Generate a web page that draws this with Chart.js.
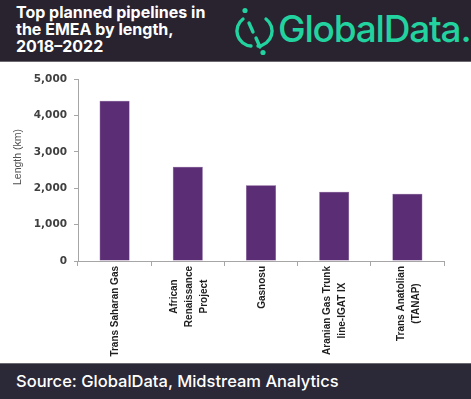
<!DOCTYPE html>
<html>
<head>
<meta charset="utf-8">
<script src="https://cdn.jsdelivr.net/npm/chart.js@4"></script>
<style>
  html, body { margin: 0; padding: 0; background: #fff; }
  #page { width: 471px; height: 399px; position: relative; overflow: hidden; }
  #header {
    height: 61px; background: #28232f; border-bottom: 1px solid #6a6870;
    position: relative;
  }
  #title {
    position: absolute; left: 16px; top: 4px;
    font: 700 16px/17px Inter, "Open Sans", sans-serif; color: #fff;
  }
  #logo { position: absolute; left: 234px; top: 6px; }
  #logotext {
    position: absolute; left: 278px; top: 6px;
    font: 500 37px/46px Inter, sans-serif; color: #22d3a0; letter-spacing: -1.2px;
  }
  #chart_container { height: 301px; position: relative; }
  #footer {
    height: 35px; background: #2b2837; border-top: 1px solid #6a6870;
    font: 500 16.5px/35px Inter, sans-serif; color: #fff; padding-left: 16px;
  }
</style>
</head>
<body>
<div id="page">
  <div id="header">
    <div id="title">Top planned pipelines in<br>the EMEA by length,<br>2018–2022</div>
    <svg id="logo" width="42" height="52" viewBox="0 0 42 52">
      <g fill="none" stroke="#22d3a0" stroke-width="3.4" stroke-linecap="round">
        <path d="M9 13 A15 15 0 0 0 17 40"/>
        <path d="M26 19 A15 15 0 0 1 18 46" transform="translate(6,-6)"/>
        <path d="M15 17 L19 26"/>
        <path d="M22 32 L26 41"/>
      </g>
      <circle cx="11" cy="4.5" r="2.6" fill="#22d3a0"/>
      <circle cx="29" cy="46.5" r="2.6" fill="#22d3a0"/>
    </svg>
    <div id="logotext">GlobalData.</div>
  </div>
  <div id="chart_container"><canvas id="chart"></canvas></div>
  <div id="footer">Source: GlobalData, Midstream Analytics</div>
</div>
<script>
// pipelines and planned length (km)
var pipelines = [
    ['Trans Saharan Gas'],
    ['African', 'Renaissance', 'Project'],
    ['Gasnosu'],
    ['Aranian Gas Trunk', 'line-IGAT IX'],
    ['Trans Anatolian', '(TANAP)']
];
var lengthKm = [4400, 2590, 2080, 1900, 1850];
var yTicks = [0, 1000, 2000, 3000, 4000, 5000];
var axisTitle = 'Length (km)';

// rotated, centre-aligned multi-line category labels + y title
var labelPlugin = {
    id: 'rotLabels',
    afterDraw: function (chart) {
        var ctx = chart.ctx;
        var xs = chart.scales.x;
        var ys = chart.scales.y;
        ctx.save();
        ctx.fillStyle = '#1e1e1e';
        ctx.font = 'bold 10px "Liberation Sans", Arial, sans-serif';
        ctx.textAlign = 'center';
        ctx.textBaseline = 'middle';
        pipelines.forEach(function (lines, i) {
            var x = xs.getPixelForValue(i);
            var maxW = 0;
            lines.forEach(function (l) { maxW = Math.max(maxW, ctx.measureText(l).width); });
            var cy = xs.top + 5 + maxW / 2;
            lines.forEach(function (l, j) {
                ctx.save();
                ctx.translate(x + 1 + (j - (lines.length - 1) / 2) * 15, cy);
                ctx.rotate(-Math.PI / 2);
                ctx.fillText(l, 0, 0);
                ctx.restore();
            });
        });
        ctx.fillStyle = '#505050';
        ctx.font = '10.5px "Liberation Sans", Arial, sans-serif';
        ctx.translate(18, (ys.top + ys.bottom) / 2 - 13);
        ctx.rotate(-Math.PI / 2);
        ctx.fillText(axisTitle, 0, 0);
        ctx.restore();
    }
};

var ctx = document.getElementById('chart').getContext('2d');
var chart = new Chart(ctx, {
    type: 'bar',
    data: {
        labels: pipelines,
        datasets: [{
            label: axisTitle,
            data: lengthKm,
            backgroundColor: '#5b2d74',
            borderColor: '#6a3a84',
            borderWidth: 0.5,
            categoryPercentage: 1,
            barPercentage: 0.41
        }]
    },
    options: {
        responsive: true,
        maintainAspectRatio: false,
        animation: false,
        layout: { padding: { top: 17, right: 27, left: 0, bottom: 0 } },
        plugins: {
            legend: { display: false },
            tooltip: { enabled: false }
        },
        scales: {
            x: {
                afterFit: function (s) { s.height = 102; },
                grid: {
                    offset: true,
                    drawOnChartArea: false,
                    color: '#a6a6a6',
                    tickLength: 5
                },
                border: { color: '#a6a6a6' },
                ticks: { display: false }
            },
            y: {
                min: 0,
                max: 5000,
                afterFit: function (s) { s.width = 78; },
                afterBuildTicks: function (s) {
                    s.ticks = yTicks.map(function (v) { return { value: v }; });
                },
                grid: {
                    drawOnChartArea: false,
                    color: '#a6a6a6',
                    tickLength: 4
                },
                border: { color: '#a6a6a6' },
                ticks: {
                    padding: 7,
                    color: '#404040',
                    font: { family: '"DejaVu Sans", sans-serif', size: 10.5, weight: 'bold' },
                    callback: function (v) { return v.toLocaleString('en-US'); }
                }
            }
        }
    },
    plugins: [labelPlugin]
});
</script>
</body>
</html>
